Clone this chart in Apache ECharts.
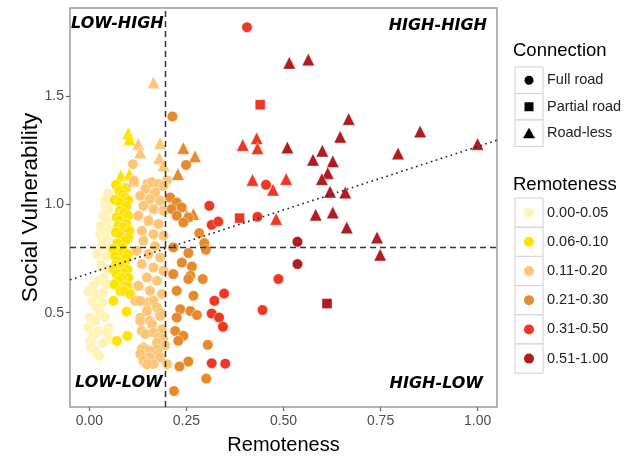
<!DOCTYPE html>
<html>
<head>
<meta charset="utf-8">
<script src="https://cdn.jsdelivr.net/npm/echarts@6/dist/echarts.min.js"></script>
<style>
  html, body { margin: 0; background: #fff; }
  #chart { width: 638px; height: 458px; }
</style>
</head>
<body>
<div id="chart"></div>
<script>
// legend classes
const remLabels = ['0.00-0.05', '0.06-0.10', '0.11-0.20', '0.21-0.30', '0.31-0.50', '0.51-1.00'];
const remColors = ['#fff2b5', '#ffe300', '#fdc575', '#e68a2c', '#ee3824', '#b01c20'];
const connLabels = ['Full road', 'Partial road', 'Road-less'];

// points: [remoteness, social vulnerability, connection]  c = full road, s = partial road, t = road-less
const rem000 = [
  [0.041,0.993,'c'],[0.049,0.978,'c'],[0.036,0.947,'c'],[0.045,0.924,'c'],[0.050,0.886,'c'],
  [0.028,0.862,'c'],[0.032,0.832,'c'],[0.045,0.840,'c'],[0.040,1.020,'c'],[0.048,1.050,'c'],
  [0.030,0.900,'c'],[0.050,0.800,'c'],[0.032,0.808,'c'],[0.020,0.770,'c'],[0.045,0.760,'c'],
  [0.030,0.720,'c'],[0.050,0.700,'c'],[0.036,0.662,'c'],[0.023,0.647,'c'],[0.010,0.624,'c'],
  [-0.003,0.598,'c'],[0.019,0.586,'c'],[0.036,0.593,'c'],[0.045,0.630,'c'],[0.032,0.547,'c'],
  [0.008,0.550,'c'],[0.019,0.524,'c'],[0.028,0.500,'c'],[0.040,0.480,'c'],[0.002,0.478,'c'],
  [0.015,0.462,'c'],[-0.003,0.432,'c'],[0.050,0.430,'c'],[0.023,0.416,'c'],[0.045,0.410,'c'],
  [0.010,0.393,'c'],[0.052,0.378,'c'],[0.002,0.370,'c'],[0.035,0.360,'c'],[0.005,0.340,'c'],
  [0.015,0.324,'c'],[0.025,0.300,'c']
];
const rem006 = [
  [0.100,1.327,'t'],[0.103,1.300,'t'],[0.081,1.132,'t'],[0.103,1.139,'t'],
  [0.069,1.090,'c'],[0.094,1.075,'c'],[0.077,1.062,'c'],[0.085,1.045,'c'],[0.092,1.031,'c'],
  [0.065,1.020,'c'],[0.100,1.020,'c'],[0.079,1.008,'c'],[0.096,0.993,'c'],[0.079,0.970,'c'],
  [0.088,0.960,'c'],[0.100,0.947,'c'],[0.070,0.940,'c'],[0.077,0.924,'c'],[0.095,0.910,'c'],
  [0.075,0.900,'c'],[0.088,0.893,'c'],[0.103,0.878,'c'],[0.068,0.870,'c'],[0.079,0.855,'c'],
  [0.100,0.845,'c'],[0.092,0.832,'c'],[0.072,0.820,'c'],[0.085,0.800,'c'],[0.062,0.793,'c'],
  [0.083,0.778,'c'],[0.100,0.770,'c'],[0.066,0.760,'c'],[0.095,0.750,'c'],[0.071,0.739,'c'],
  [0.092,0.724,'c'],[0.068,0.720,'c'],[0.080,0.710,'c'],[0.062,0.701,'c'],[0.098,0.700,'c'],
  [0.088,0.685,'c'],[0.070,0.680,'c'],[0.100,0.662,'c'],[0.083,0.660,'c'],[0.075,0.647,'c'],
  [0.065,0.630,'c'],[0.092,0.624,'c'],[0.098,0.620,'c'],[0.080,0.600,'c'],[0.090,0.600,'c'],
  [0.105,0.586,'c'],[0.062,0.555,'c'],[0.096,0.505,'c'],[0.098,0.393,'c'],[0.071,0.370,'c']
];
const rem011 = [
  [0.165,1.562,'t'],[0.126,1.278,'t'],[0.131,1.239,'t'],[0.182,1.281,'t'],[0.180,1.213,'t'],
  [0.191,1.180,'t'],[0.113,1.108,'t'],[0.156,0.932,'t'],
  [0.112,1.185,'c'],[0.115,1.108,'c'],[0.149,1.093,'c'],[0.161,1.101,'c'],[0.178,1.093,'c'],
  [0.200,1.110,'c'],[0.191,1.085,'c'],[0.144,1.070,'c'],[0.169,1.054,'c'],[0.131,1.039,'c'],
  [0.156,1.024,'c'],[0.182,1.016,'c'],[0.139,0.993,'c'],[0.165,0.978,'c'],[0.191,0.970,'c'],
  [0.126,0.947,'c'],[0.152,0.924,'c'],[0.178,0.909,'c'],[0.135,0.878,'c'],[0.165,0.862,'c'],
  [0.191,0.855,'c'],[0.139,0.832,'c'],[0.169,0.808,'c'],[0.122,0.785,'c'],[0.152,0.770,'c'],
  [0.182,0.754,'c'],[0.135,0.724,'c'],[0.165,0.708,'c'],[0.191,0.693,'c'],[0.148,0.662,'c'],
  [0.174,0.647,'c'],[0.126,0.624,'c'],[0.156,0.601,'c'],[0.187,0.586,'c'],[0.118,0.555,'c'],
  [0.148,0.547,'c'],[0.131,0.555,'c'],[0.165,0.555,'c'],[0.174,0.524,'c'],[0.148,0.508,'c'],
  [0.182,0.501,'c'],[0.182,0.485,'c'],[0.131,0.476,'c'],[0.131,0.462,'c'],[0.156,0.462,'c'],
  [0.161,0.447,'c'],[0.187,0.424,'c'],[0.135,0.416,'c'],[0.165,0.408,'c'],[0.144,0.401,'c'],
  [0.178,0.385,'c'],[0.190,0.380,'c'],[0.174,0.362,'c'],[0.195,0.350,'c'],[0.139,0.340,'c'],
  [0.135,0.332,'c'],[0.174,0.332,'c'],[0.156,0.324,'c'],[0.131,0.309,'c'],[0.178,0.309,'c'],
  [0.156,0.293,'c'],[0.182,0.293,'c'],[0.139,0.278,'c'],[0.165,0.263,'c'],[0.148,0.262,'c'],
  [0.200,0.262,'c']
];
const rem021 = [
  [0.242,1.259,'t'],[0.272,1.221,'t'],[0.228,1.139,'t'],[0.268,0.955,'t'],[0.251,0.947,'t'],
  [0.214,1.405,'c'],[0.249,1.181,'c'],[0.208,1.031,'c'],[0.225,1.008,'c'],[0.212,0.978,'c'],
  [0.238,0.985,'c'],[0.225,0.947,'c'],[0.255,0.939,'c'],[0.242,0.916,'c'],[0.283,0.867,'c'],
  [0.296,0.821,'c'],[0.300,0.790,'c'],[0.216,0.801,'c'],[0.255,0.775,'c'],[0.238,0.731,'c'],
  [0.264,0.713,'c'],[0.216,0.678,'c'],[0.260,0.670,'c'],[0.292,0.655,'c'],[0.255,0.655,'c'],
  [0.225,0.601,'c'],[0.268,0.578,'c'],[0.234,0.516,'c'],[0.260,0.508,'c'],[0.277,0.489,'c'],
  [0.225,0.478,'c'],[0.221,0.416,'c'],[0.242,0.393,'c'],[0.229,0.370,'c'],[0.305,0.352,'c'],
  [0.255,0.275,'c'],[0.232,0.252,'c'],[0.301,0.196,'c'],[0.218,0.139,'c']
];
const rem031 = [
  [0.406,1.816,'c'],[0.455,1.090,'c'],[0.309,0.993,'c'],[0.315,0.905,'c'],[0.332,0.920,'c'],
  [0.433,0.942,'c'],[0.487,0.655,'c'],[0.446,0.512,'c'],[0.347,0.588,'c'],[0.322,0.555,'c'],
  [0.315,0.496,'c'],[0.334,0.478,'c'],[0.344,0.435,'c'],[0.315,0.267,'c'],[0.350,0.265,'c'],
  [0.440,1.459,'s'],[0.387,0.936,'s'],
  [0.395,1.273,'t'],[0.431,1.304,'t'],[0.433,1.258,'t'],[0.420,1.112,'t'],[0.507,1.116,'t'],
  [0.473,1.067,'t'],[0.481,0.932,'t']
];
const rem051 = [
  [0.515,1.652,'t'],[0.564,1.667,'t'],[0.668,1.393,'t'],[0.646,1.311,'t'],[0.852,1.336,'t'],
  [0.795,1.234,'t'],[1.000,1.278,'t'],[0.510,1.262,'t'],[0.576,1.205,'t'],[0.600,1.247,'t'],
  [0.627,1.198,'t'],[0.614,1.144,'t'],[0.599,1.116,'t'],[0.620,1.058,'t'],[0.659,1.054,'t'],
  [0.663,0.893,'t'],[0.741,0.847,'t'],[0.749,0.767,'t'],[0.583,0.952,'t'],[0.627,0.962,'t'],
  [0.536,0.827,'c'],[0.536,0.724,'c'],
  [0.612,0.542,'s']
];
const remGroups = [rem000, rem006, rem011, rem021, rem031, rem051];

// reference lines
const vulnCut = 0.8;
const remCut = 0.196;
const fitIntercept = 0.681;
const fitSlope = 0.585;

const xMin = -0.05, xMax = 1.05, yMin = 0.065, yMax = 1.905;
const xTicks = [0, 0.25, 0.5, 0.75, 1.0];
const yTicks = [0.5, 1.0, 1.5];

const symbolOf = { c: 'circle', s: 'rect', t: 'triangle' };
const sizeOf = { c: 10.5, s: 10, t: 12.5 };

const chart = echarts.init(document.getElementById('chart'));

const scatterSeries = remGroups.map((pts, i) => ({
  type: 'scatter',
  name: remLabels[i],
  data: pts,
  symbol: (v) => symbolOf[v[2]],
  symbolSize: (v) => sizeOf[v[2]],
  itemStyle: { color: remColors[i], borderColor: '#fff', borderWidth: 0.4, opacity: 1 },
  emphasis: { disabled: true },
  z: 2
}));

const lineStyleDash = { color: '#333', width: 1.5, type: [6, 4] };

const refSeries = [
  {
    type: 'line', data: [[xMin, vulnCut], [xMax, vulnCut]], symbol: 'none',
    lineStyle: lineStyleDash, z: 5, silent: true
  },
  {
    type: 'line', data: [[remCut, yMin], [remCut, yMax]], symbol: 'none',
    lineStyle: lineStyleDash, z: 5, silent: true
  },
  {
    type: 'line',
    data: [[xMin, fitIntercept + fitSlope * xMin], [xMax, fitIntercept + fitSlope * xMax]],
    symbol: 'none', lineStyle: { color: '#222', width: 1.6, type: [1.6, 3.6] }, z: 5, silent: true
  }
];

const quadFont = 'italic bold 16px "DejaVu Sans"';
const graphics = [
  { type: 'text', style: { text: 'LOW-HIGH', x: 71, y: 24, font: quadFont, fill: '#000', verticalAlign: 'middle' } },
  { type: 'text', style: { text: 'HIGH-HIGH', x: 487, y: 26, font: quadFont, fill: '#000', align: 'right', verticalAlign: 'middle' } },
  { type: 'text', style: { text: 'LOW-LOW', x: 75, y: 383, font: quadFont, fill: '#000', verticalAlign: 'middle' } },
  { type: 'text', style: { text: 'HIGH-LOW', x: 483, y: 384, font: quadFont, fill: '#000', align: 'right', verticalAlign: 'middle' } }
];

// legend: Connection
const legX = 515, keyW = 28;
const titleFont = '18.5px "Liberation Sans"';
const labFont = '14.5px "Liberation Sans"';
graphics.push({ type: 'text', style: { text: 'Connection', x: 513, y: 51, font: titleFont, fill: '#000', verticalAlign: 'middle' } });
const connTop = 67, connH = 26.5;
connLabels.forEach((lab, i) => {
  const y0 = connTop + i * connH, cy = y0 + connH / 2, cx = legX + keyW / 2;
  graphics.push({ type: 'rect', shape: { x: legX, y: y0, width: keyW, height: connH }, style: { fill: '#fff', stroke: '#d0d0d0', lineWidth: 1 } });
  if (i === 0) graphics.push({ type: 'circle', shape: { cx, cy, r: 4.5 }, style: { fill: '#000' } });
  if (i === 1) graphics.push({ type: 'rect', shape: { x: cx - 4.5, y: cy - 4.5, width: 9, height: 9 }, style: { fill: '#000' } });
  if (i === 2) graphics.push({ type: 'polygon', shape: { points: [[cx, cy - 5.5], [cx + 6, cy + 5], [cx - 6, cy + 5]] }, style: { fill: '#000' } });
  graphics.push({ type: 'text', style: { text: lab, x: 547, y: cy, font: labFont, fill: '#222', verticalAlign: 'middle' } });
});

// legend: Remoteness
graphics.push({ type: 'text', style: { text: 'Remoteness', x: 513, y: 185, font: titleFont, fill: '#000', verticalAlign: 'middle' } });
const remTop = 198, remH = 29.2;
remLabels.forEach((lab, i) => {
  const y0 = remTop + i * remH, cy = y0 + remH / 2, cx = legX + keyW / 2;
  graphics.push({ type: 'rect', shape: { x: legX, y: y0, width: keyW, height: remH }, style: { fill: '#fff', stroke: '#d0d0d0', lineWidth: 1 } });
  graphics.push({ type: 'circle', shape: { cx, cy, r: 5 }, style: { fill: remColors[i] } });
  graphics.push({ type: 'text', style: { text: lab, x: 547, y: cy, font: labFont, fill: '#222', verticalAlign: 'middle' } });
});

chart.setOption({
  animation: false,
  backgroundColor: '#fff',
  grid: {
    left: 70, right: 141, top: 8, bottom: 51, outerBoundsMode: 'none',
    show: true, borderColor: '#9a9a9a', borderWidth: 1.5, backgroundColor: 'transparent'
  },
  xAxis: {
    type: 'value', min: xMin, max: xMax,
    name: 'Remoteness', nameLocation: 'middle', nameGap: 28,
    nameTextStyle: { fontSize: 20, color: '#000', fontFamily: 'Liberation Sans' },
    axisLine: { show: false, onZero: false },
    splitLine: { show: false },
    axisTick: { show: true, length: 4, lineStyle: { color: '#666', width: 1.2 }, customValues: xTicks },
    axisLabel: { customValues: xTicks, formatter: (v) => v.toFixed(2), fontSize: 14, color: '#4d4d4d', fontFamily: 'Liberation Sans', margin: 7 }
  },
  yAxis: {
    type: 'value', min: yMin, max: yMax,
    name: 'Social Vulnerability', nameLocation: 'middle', nameGap: 28, nameMoveOverlap: false,
    nameTextStyle: { fontSize: 22.5, color: '#000', fontFamily: 'Liberation Sans' },
    axisLine: { show: false, onZero: false },
    splitLine: { show: false },
    axisTick: { show: true, length: 4, lineStyle: { color: '#666', width: 1.2 }, customValues: yTicks },
    axisLabel: { customValues: yTicks, formatter: (v) => v.toFixed(1), fontSize: 14, color: '#4d4d4d', fontFamily: 'Liberation Sans', margin: 6 }
  },
  series: scatterSeries.concat(refSeries),
  graphic: graphics
});
</script>
</body>
</html>
